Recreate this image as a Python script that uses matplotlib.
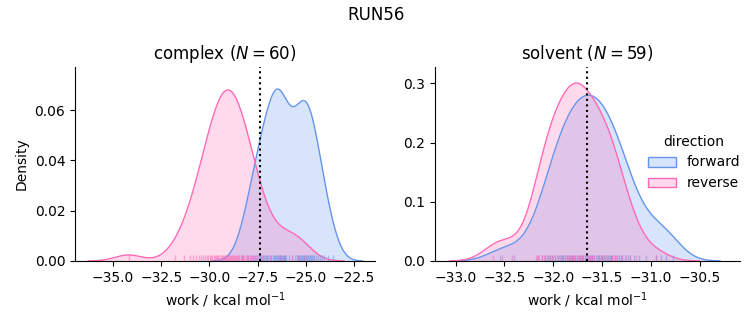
import numpy as np
import matplotlib.pyplot as plt
from matplotlib.patches import Patch
from matplotlib.colors import to_rgba

run_name = "RUN56"
phases = ["complex", "solvent"]
directions = ["forward", "reverse"]
colors = {"forward": "#6495ed", "reverse": "#ff69b4"}
n_samples = {"complex": 60, "solvent": 59}

complex_forward = [
    -28.3, -28.0,
    -27.85, -27.75, -27.65, -27.55,
    -27.45, -27.35, -27.3, -27.2, -27.15, -27.05, -27.0,
    -26.95, -26.85, -26.8, -26.7, -26.65, -26.6, -26.55, -26.5,
    -26.45, -26.4, -26.35, -26.32, -26.3, -26.25, -26.2, -26.15, -26.1, -26.05, -26.0,
    -25.85, -25.7, -25.55, -25.45,
    -25.4, -25.35, -25.3, -25.25, -25.2, -25.15, -25.1, -25.05, -25.0,
    -24.95, -24.9, -24.85, -24.8, -24.7, -24.65, -24.6, -24.55,
    -24.45, -24.35, -24.25, -24.15, -24.05,
    -23.85, -23.6,
]
complex_reverse = [
    -34.2,
    -31.8, -31.3, -31.0, -30.85, -30.7, -30.55, -30.45, -30.35, -30.25, -30.15,
    -30.05, -29.98, -29.9, -29.84, -29.77, -29.71, -29.65, -29.59, -29.53, -29.48,
    -29.42, -29.37, -29.31, -29.26, -29.21, -29.15, -29.1, -29.05, -28.99, -28.95,
    -28.89, -28.84, -28.79, -28.73, -28.68, -28.62, -28.57, -28.51, -28.45, -28.38,
    -28.33, -28.26, -28.19, -28.12, -28.05, -27.97, -27.88, -27.78, -27.69, -27.58,
    -27.45, -27.29, -27.11, -26.84,
    -26.35, -26.05, -25.7, -25.4, -25.1,
]
solvent_forward = [
    -32.55, -32.4,
    -32.17, -32.12,
    -32.08, -32.05, -32.03, -32.01,
    -31.98, -31.95, -31.93, -31.91, -31.9,
    -31.88, -31.86, -31.84, -31.83, -31.81, -31.8,
    -31.78, -31.76, -31.74, -31.73, -31.71, -31.7,
    -31.68, -31.66, -31.65, -31.63, -31.62, -31.6, -31.6,
    -31.58, -31.56, -31.54, -31.53, -31.51, -31.5,
    -31.48, -31.46, -31.44, -31.42, -31.41, -31.4,
    -31.37, -31.35, -31.33, -31.31, -31.3,
    -31.27, -31.24, -31.21,
    -31.17, -31.12,
    -31.05, -30.95, -30.9, -30.85, -30.78,
]
solvent_reverse = [
    -32.62, -32.52, -32.42,
    -32.18, -32.16, -32.15, -32.12, -32.1,
    -32.08, -32.06, -32.04, -32.03, -32.01, -32.0,
    -31.98, -31.96, -31.94, -31.92, -31.9,
    -31.88, -31.86, -31.85, -31.83, -31.82, -31.81, -31.8, -31.79,
    -31.78, -31.76, -31.75, -31.73, -31.72, -31.71, -31.7,
    -31.68, -31.66, -31.64, -31.62, -31.61, -31.6,
    -31.58, -31.55, -31.53, -31.51, -31.5, -31.49,
    -31.47, -31.45, -31.43, -31.41, -31.4, -31.38,
    -31.36, -31.33, -31.3,
    -31.26, -31.22,
    -31.15,
    -30.95,
]
# free energy estimate shown as dotted line
dg_estimate = {"complex": -27.37, "solvent": -31.65}

work = {
    ("complex", "forward"): complex_forward,
    ("complex", "reverse"): complex_reverse,
    ("solvent", "forward"): solvent_forward,
    ("solvent", "reverse"): solvent_reverse,
}
density_share = {"complex": 0.25, "solvent": 0.273}
xlims = {"complex": (-36.98, -21.4), "solvent": (-33.21, -30.09)}
ylims = {"complex": (0, 0.077), "solvent": (0, 0.327)}


def kde(values, share, gridsize=200, cut=3):
    x = np.asarray(values, dtype=float)
    bw = x.std(ddof=1) * len(x) ** (-1 / 5)
    grid = np.linspace(x.min() - cut * bw, x.max() + cut * bw, gridsize)
    k = np.exp(-0.5 * ((grid[:, None] - x[None, :]) / bw) ** 2)
    dens = k.sum(axis=1) / (len(x) * bw * np.sqrt(2 * np.pi))
    return grid, dens * share


fig = plt.figure(figsize=(7.53, 3.25), dpi=100)
ax1 = fig.add_axes([0.0996, 0.197, 0.3984, 0.596])
ax2 = fig.add_axes([0.5777, 0.197, 0.405, 0.596])

for ax, phase in zip([ax1, ax2], phases):
    for d in directions:
        grid, dens = kde(work[(phase, d)], density_share[phase])
        ax.fill_between(grid, dens, color=colors[d], alpha=0.25, lw=0)
        ax.plot(grid, dens, color=colors[d], lw=1)
    for d in directions:
        ax.vlines(work[(phase, d)], 0, 0.03, color=colors[d], lw=1, alpha=0.5,
                  transform=ax.get_xaxis_transform())
    ax.axvline(dg_estimate[phase], color="k", ls=":", lw=1.5)
    ax.set_xlim(*xlims[phase])
    ax.set_ylim(*ylims[phase])
    ax.set_title(f"{phase} ($N = {n_samples[phase]}$)")
    ax.set_xlabel("work / kcal mol$^{-1}$")
    ax.spines["top"].set_visible(False)
    ax.spines["right"].set_visible(False)

ax1.set_ylabel("Density")
ax1.set_xticks([-35.0, -32.5, -30.0, -27.5, -25.0, -22.5])
ax2.set_xticks([-33.0, -32.5, -32.0, -31.5, -31.0, -30.5])
ax2.set_yticks([0.0, 0.1, 0.2, 0.3])

handles = [Patch(facecolor=to_rgba(colors[d], 0.25), edgecolor=colors[d], lw=1)
           for d in directions]
fig.legend(handles, directions, title="direction", loc="center right",
           bbox_to_anchor=(1.0, 0.5), frameon=False)
fig.suptitle(run_name)

fig.savefig("out.png", dpi=100)
